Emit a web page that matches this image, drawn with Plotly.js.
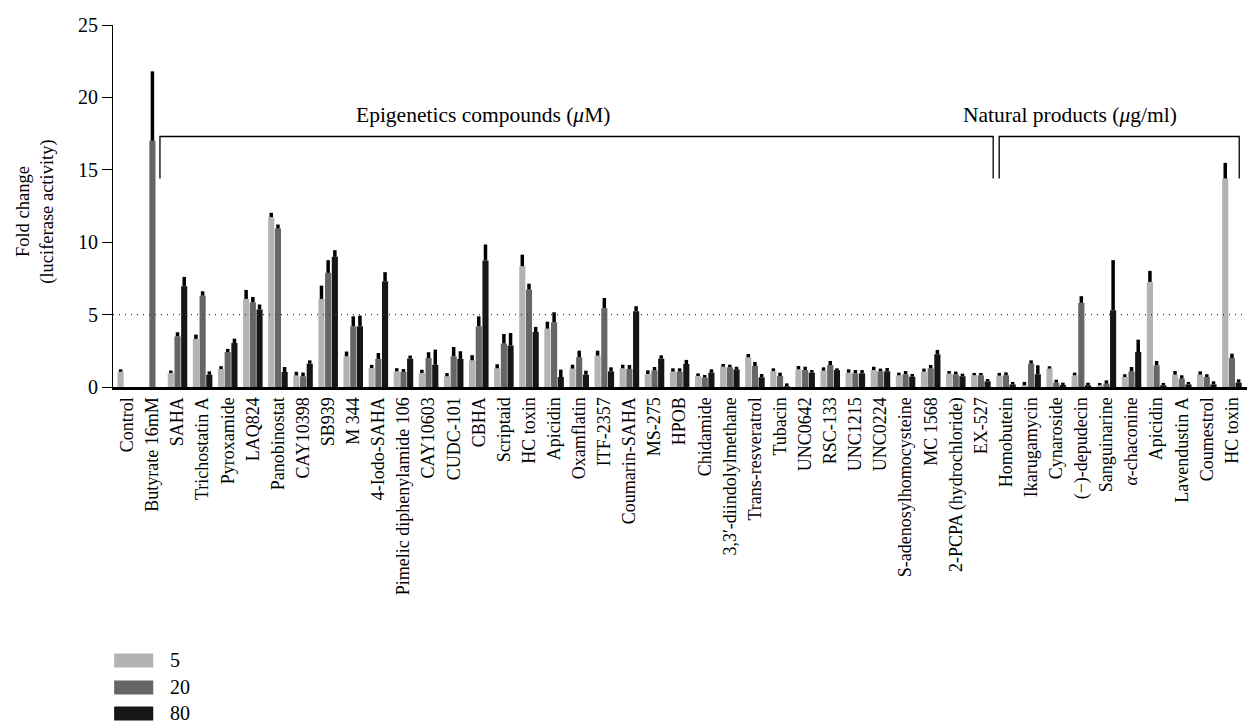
<!DOCTYPE html>
<html>
<head>
<meta charset="utf-8">
<script src="https://cdn.plot.ly/plotly-3.0.1.min.js"></script>
<style>html,body{margin:0;padding:0;background:#fff;}#chart{width:1247px;height:726px;}</style>
</head>
<body>
<div id="chart"></div>
<script>
var categories = ["Control","Butyrate 16mM","SAHA","Trichostatin A","Pyroxamide","LAQ824","Panobinostat","CAY10398","SB939","M 344","4-Iodo-SAHA","Pimelic diphenylamide 106","CAY10603","CUDC-101","CBHA","Scriptaid","HC toxin","Apicidin","Oxamflatin","ITF-2357","Coumarin-SAHA","MS-275","HPOB","Chidamide","3,3\u2032-diindolylmethane","Trans-resveratrol","Tubacin","UNC0642","RSC-133","UNC1215","UNC0224","S-adenosylhomocysteine","MC 1568","2-PCPA (hydrochloride)","EX-527","Homobutein","Ikarugamycin","Cynaroside","(\u2212)-depudecin","Sanguinarine","<i>\u03b1</i>-chaconine","Apicidin","Lavendustin A","Coumestrol","HC toxin"];
var doseNames = ["5","20","80"];
var v5 = [1.05,null,0.97,3.32,1.24,6.08,11.73,0.8,6.08,2.12,1.31,1.08,0.97,0.74,1.84,1.29,8.34,4.03,1.27,2.17,1.29,0.9,1.06,0.76,1.4,2.05,1.1,1.22,1.13,0.99,1.17,0.81,1.06,0.92,0.81,0.78,0.12,1.27,0.81,0.12,0.69,7.26,0.85,0.85,14.4];
var e5 = [0.17,0,0.17,0.3,0.2,0.62,0.3,0.25,0.92,0.33,0.22,0.22,0.22,0.22,0.36,0.28,0.8,0.48,0.27,0.34,0.25,0.25,0.23,0.18,0.19,0.23,0.19,0.23,0.23,0.23,0.23,0.18,0.21,0.18,0.16,0.19,0.23,0.16,0.18,0.16,0.19,0.76,0.25,0.23,1.08];
var v20 = [null,17.0,3.5,6.31,2.42,5.85,10.94,0.74,7.88,4.19,1.94,1.04,2.0,2.12,4.19,3.0,6.73,4.47,2.05,5.44,1.24,1.15,1.06,0.65,1.36,1.45,0.76,1.17,1.52,0.94,1.08,0.88,1.29,0.88,0.81,0.81,1.61,0.3,5.81,0.23,1.08,1.5,0.58,0.69,2.0];
var e20 = [0,4.8,0.28,0.3,0.21,0.37,0.28,0.26,0.88,0.69,0.41,0.2,0.4,0.64,0.69,0.66,0.41,0.69,0.46,0.71,0.28,0.23,0.23,0.18,0.18,0.28,0.23,0.23,0.28,0.23,0.19,0.22,0.23,0.18,0.16,0.2,0.23,0.2,0.46,0.23,0.3,0.3,0.23,0.19,0.3];
var v80 = [null,null,6.96,0.85,3.04,5.35,1.04,1.61,8.99,4.19,7.3,1.96,1.54,1.94,8.73,2.86,3.8,0.69,0.85,1.08,5.23,1.96,1.59,0.99,1.22,0.67,0.05,0.99,1.17,0.94,1.08,0.71,2.26,0.74,0.39,0.18,0.88,0.14,0.12,5.3,2.42,0.12,0.18,0.18,0.3];
var e80 = [0,0,0.64,0.23,0.3,0.35,0.34,0.23,0.46,0.74,0.63,0.21,1.04,0.53,1.11,0.87,0.35,0.51,0.28,0.28,0.35,0.23,0.28,0.23,0.18,0.23,0.2,0.18,0.12,0.23,0.23,0.19,0.3,0.18,0.16,0.17,0.62,0.16,0.18,3.46,0.85,0.16,0.17,0.21,0.23];
var yTicks = [0,5,10,15,20,25];
var groupLabels = ["Epigenetics compounds (<i>\u03bc</i>M)","Natural products (<i>\u03bc</i>g/ml)"];

var colors = ["#b3b3b3","#666666","#161616"];
var font = "Liberation Serif, Times New Roman, serif";
var xIdx = categories.map(function(_, i){ return i; });
var vals = [v5, v20, v80], errs = [e5, e20, e80];

var traces = vals.map(function(v, k){
  return {
    type: "bar", x: xIdx, y: v, name: doseNames[k], showlegend: false,
    marker: {color: colors[k], line: {width: 0}},
    error_y: {type: "data", symmetric: false, array: errs[k], arrayminus: errs[k].map(function(){return 0;}),
              color: "#000", thickness: 3.5, width: 0, visible: true},
    hoverinfo: "x+y"
  };
});

var shapes = [
  {type:"line", xref:"paper", yref:"y", x0:0, x1:1, y0:5, y1:5, line:{color:"#333", width:1.3, dash:"1px,5px"}},
  {type:"path", xref:"x", yref:"y", path:"M1.3,14.4 L1.3,17.3 L34.49,17.3 L34.49,14.4", line:{color:"#000", width:1.3}},
  {type:"path", xref:"x", yref:"y", path:"M34.73,14.4 L34.73,17.3 L44.29,17.3 L44.29,14.4", line:{color:"#000", width:1.3}}
];
var annotations = [
  {xref:"x", yref:"y", x:14.17, y:17.85, yanchor:"bottom", text:groupLabels[0], showarrow:false, font:{family:font, size:21.5, color:"#000"}},
  {xref:"x", yref:"y", x:37.55, y:17.85, yanchor:"bottom", text:groupLabels[1], showarrow:false, font:{family:font, size:21.5, color:"#000"}},
  {xref:"paper", yref:"paper", x:-0.0685, y:0.485, xanchor:"center", yanchor:"middle", textangle:-90,
   text:"Fold change<br>(luciferase activity)", showarrow:false, font:{family:font, size:18.5, color:"#000"}}
];
var legY = [-0.7555, -0.830, -0.9017];
doseNames.forEach(function(n, k){
  shapes.push({type:"rect", xref:"paper", yref:"paper", x0:0.001, x1:0.0355, y0:legY[k]-0.0193, y1:legY[k]+0.0193, fillcolor:colors[k], line:{width:0}});
  annotations.push({xref:"paper", yref:"paper", x:0.0485, y:legY[k], xanchor:"left", yanchor:"middle", text:n, showarrow:false, font:{family:font, size:20, color:"#000"}});
});

var layout = {
  width: 1247, height: 726,
  margin: {l:113, r:0, t:25, b:338.7, pad:0},
  paper_bgcolor:"#fff", plot_bgcolor:"#fff",
  barmode:"group", bargap:0.2, bargroupgap:0.08,
  font:{family:font, size:18, color:"#000"},
  xaxis: {range:[-0.57, 44.6], tickmode:"array", tickvals:xIdx, ticktext:categories, tickangle:-90,
          showgrid:false, zeroline:false, showline:true, linecolor:"#000", linewidth:3, ticks:"",
          tickfont:{family:font, size:18, color:"#000"}, fixedrange:true},
  yaxis: {range:[0,25], tickmode:"array", tickvals:yTicks, showgrid:false, zeroline:false,
          showline:true, linecolor:"#000", linewidth:1, ticks:"outside", ticklen:10, tickwidth:1, tickcolor:"#000",
          tickfont:{family:font, size:20, color:"#000"}},
  shapes: shapes, annotations: annotations, showlegend:false
};
Plotly.newPlot("chart", traces, layout, {staticPlot:true, displayModeBar:false});
</script>
</body>
</html>
